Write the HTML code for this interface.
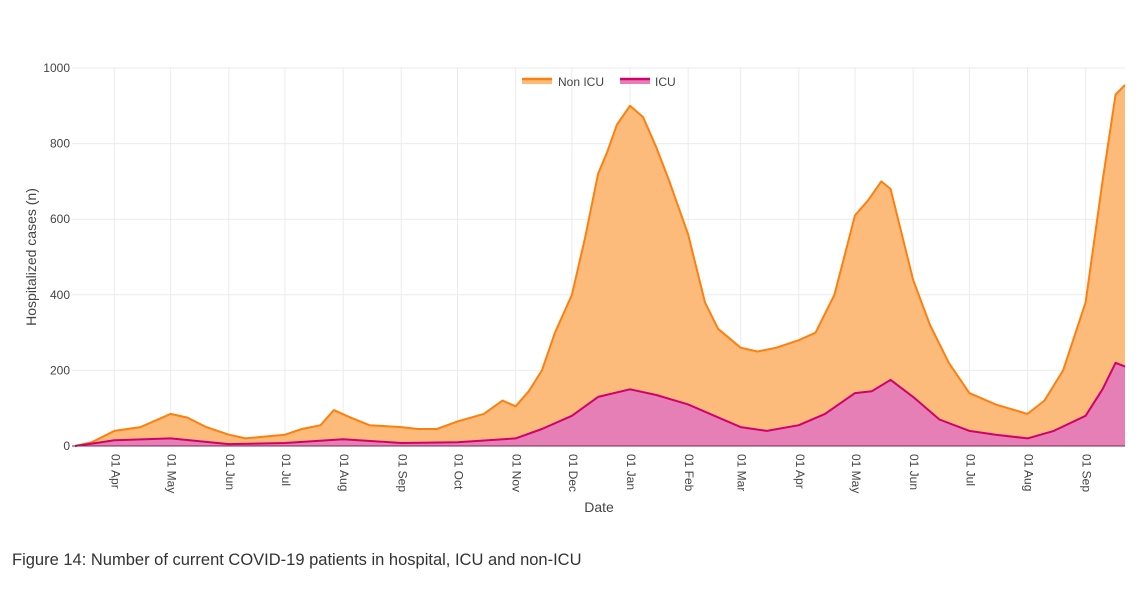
<!DOCTYPE html>
<html><head><meta charset="utf-8"><style>
body{margin:0;background:#fff;width:1142px;height:584px;overflow:hidden;font-family:"Liberation Sans",sans-serif}
svg text{font-family:"Liberation Sans",sans-serif}
</style></head><body>
<svg id="chart" width="1142" height="584" viewBox="0 0 1142 584">
<g id="grid"></g><g id="areas"></g><g id="axes"></g>
<text x="599" y="512" font-size="14" fill="#444" text-anchor="middle">Date</text>
<text transform="translate(36,257) rotate(-90)" font-size="14" fill="#444" text-anchor="middle">Hospitalized cases (n)</text>
<g>
<rect x="522" y="78" width="30" height="6" fill="#fdbb7b"/>
<line x1="522" x2="552" y1="79" y2="79" stroke="#ff7f0e" stroke-width="2.5"/>
<text x="558" y="86" font-size="12" fill="#444">Non ICU</text>
<rect x="620" y="78" width="30" height="6" fill="#e77fb7"/>
<line x1="620" x2="650" y1="79" y2="79" stroke="#d1006b" stroke-width="2.5"/>
<text x="655" y="86" font-size="12" fill="#444">ICU</text>
</g>
<text x="12" y="565" font-size="16.5" fill="#333">Figure 14: Number of current COVID-19 patients in hospital, ICU and non-ICU</text>
</svg>
<script>
const totalDates=["2020-03-11","2020-03-20","2020-04-01","2020-04-15","2020-05-01","2020-05-10","2020-05-20","2020-06-01","2020-06-10","2020-06-20","2020-07-01","2020-07-10","2020-07-20","2020-07-27","2020-08-05","2020-08-15","2020-09-01","2020-09-10","2020-09-20","2020-10-01","2020-10-15","2020-10-25","2020-11-01","2020-11-08","2020-11-15","2020-11-22","2020-12-01","2020-12-08","2020-12-15","2020-12-20","2020-12-25","2021-01-01","2021-01-08","2021-01-15","2021-01-22","2021-02-01","2021-02-10","2021-02-17","2021-03-01","2021-03-10","2021-03-20","2021-04-01","2021-04-10","2021-04-20","2021-05-01","2021-05-08","2021-05-15","2021-05-20","2021-06-01","2021-06-10","2021-06-20","2021-07-01","2021-07-15","2021-08-01","2021-08-10","2021-08-20","2021-09-01","2021-09-10","2021-09-17","2021-09-22"];
const totalValues=[0,10,40,50,85,75,50,30,20,25,30,45,55,95,75,55,50,45,45,65,85,120,105,145,200,300,400,550,720,780,850,900,870,790,700,560,380,310,260,250,260,280,300,400,610,650,700,680,440,320,220,140,110,85,120,200,380,700,930,955];
const icuDates=["2020-03-11","2020-03-25","2020-04-01","2020-05-01","2020-06-01","2020-07-01","2020-08-01","2020-09-01","2020-10-01","2020-11-01","2020-11-15","2020-12-01","2020-12-15","2021-01-01","2021-01-15","2021-02-01","2021-02-15","2021-03-01","2021-03-15","2021-04-01","2021-04-15","2021-05-01","2021-05-10","2021-05-20","2021-06-01","2021-06-15","2021-07-01","2021-07-15","2021-08-01","2021-08-15","2021-09-01","2021-09-10","2021-09-17","2021-09-22"];
const icuValues=[0,10,15,20,5,8,18,8,10,20,45,80,130,150,135,110,80,50,40,55,85,140,145,175,130,70,40,30,20,40,80,150,220,210];
const yTicks=[0,200,400,600,800,1000];
const xTickDates=["2020-04-01","2020-05-01","2020-06-01","2020-07-01","2020-08-01","2020-09-01","2020-10-01","2020-11-01","2020-12-01","2021-01-01","2021-02-01","2021-03-01","2021-04-01","2021-05-01","2021-06-01","2021-07-01","2021-08-01","2021-09-01"];
const xTickLabels=["01 Apr","01 May","01 Jun","01 Jul","01 Aug","01 Sep","01 Oct","01 Nov","01 Dec","01 Jan","01 Feb","01 Mar","01 Apr","01 May","01 Jun","01 Jul","01 Aug","01 Sep"];

const NS="http://www.w3.org/2000/svg";
const L=75,R=1125,T=68,B=446;
const d0=Date.parse("2020-03-11"),d1=Date.parse("2021-09-22");
function x(d){return L+(Date.parse(d)-d0)/(d1-d0)*(R-L);}
function y(v){return B-v/1000*(B-T);}
function mk(tag,attrs,parent){const e=document.createElementNS(NS,tag);for(const k in attrs)e.setAttribute(k,attrs[k]);parent.appendChild(e);return e;}
const grid=document.getElementById('grid'),axes=document.getElementById('axes'),areas=document.getElementById('areas');
yTicks.forEach(v=>{
  const g=mk('line',{x1:72,x2:R,y1:y(v),y2:y(v),stroke:'#ebebeb','stroke-width':1},grid);
  
  
  const t=mk('text',{x:70,y:y(v)+4,'font-size':12,fill:'#444','text-anchor':'end'},axes);
  t.textContent=v;
  
  
});
xTickDates.forEach((d,i)=>{
  const g=mk('line',{x1:x(d),x2:x(d),y1:T,y2:B,stroke:'#ebebeb','stroke-width':1},grid);
  
  
  const t=mk('text',{transform:`translate(${x(d)-3},${B+8}) rotate(90)`,'font-size':12,fill:'#444'},axes);
  t.textContent=xTickLabels[i];
  
  
});
function linePts(ds,vs){return ds.map((d,i)=>x(d).toFixed(1)+','+y(vs[i]).toFixed(1)).join(' ');}
function area(ds,vs,fill,stroke,name){
  const pts=linePts(ds,vs);
  const a=mk('polygon',{points:`${x(ds[0])},${B} ${pts} ${x(ds[ds.length-1])},${B}`,fill:fill},areas);
  
  
  const l=mk('polyline',{points:pts,fill:'none',stroke:stroke,'stroke-width':2,'stroke-linejoin':'round'},areas);
  
  
}
area(totalDates,totalValues,'#fdbb7b','#ff7f0e','non-icu');
area(icuDates,icuValues,'#e77fb7','#d1006b','icu');
const ax=mk('line',{x1:72,x2:R,y1:B,y2:B,stroke:'#7a2a55','stroke-width':1},axes);


</script>
</body></html>
